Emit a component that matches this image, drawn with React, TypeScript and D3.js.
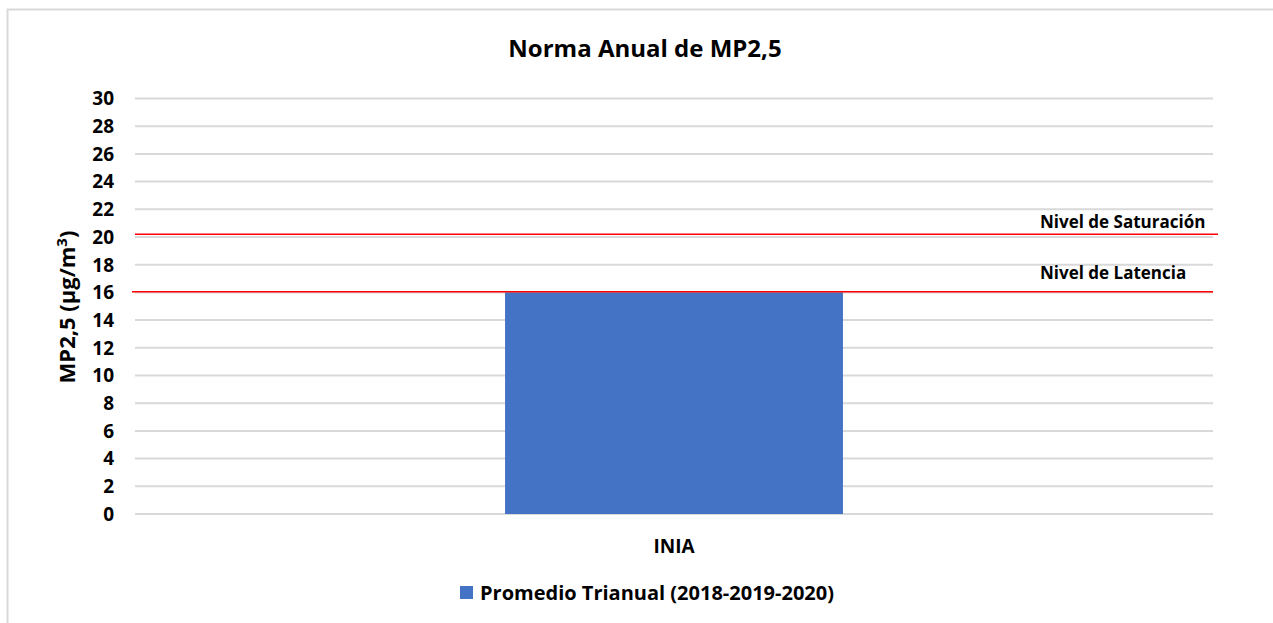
import React from "react";
import * as d3 from "d3";

const categories = ["INIA"];
const promedioTrianual = [16.0];
const nivelSaturacion = 20.2;
const nivelLatencia = 16.05;
const yTicks = [0, 2, 4, 6, 8, 10, 12, 14, 16, 18, 20, 22, 24, 26, 28, 30];

const W = 1273;
const H = 623;
const FONT = "'Open Sans', 'Noto Sans', sans-serif";

export default function App() {
  const x = d3.scaleBand<string>().domain(categories).range([135, 1213]).paddingInner(0.5227).paddingOuter(0.5227);
  const y = d3.scaleLinear().domain([0, 30]).range([514, 98.5]);

  return (
    <svg width={W} height={H} style={{ position: "absolute", left: 0, top: 0, background: "#fff" }} fontFamily={FONT}>
      <rect x={7.5} y={9.5} width={1290} height={640} fill="#fff" stroke="#d9d9d9" strokeWidth={2} />
      <text x={645} y={57} textAnchor="middle" fontSize={24} fontWeight={700} fill="#000">Norma Anual de MP2,5</text>
      {yTicks.map((t) => (
        <g key={t}>
          <line x1={135} x2={1213} y1={y(t)} y2={y(t)} stroke="#d9d9d9" strokeWidth={2} />
          <text x={114} y={y(t)} dy="0.36em" textAnchor="end" fontSize={19} fontWeight={700} fill="#000">{t}</text>
        </g>
      ))}
      {categories.map((c, i) => (
        <rect key={c} x={x(c)} y={y(promedioTrianual[i])} width={x.bandwidth()} height={y(0) - y(promedioTrianual[i])} fill="#4472c4" />
      ))}
      <line x1={135} x2={1218} y1={y(nivelSaturacion)} y2={y(nivelSaturacion)} stroke="#ff0000" strokeWidth={1.5} />
      <line x1={132} x2={1213} y1={y(nivelLatencia)} y2={y(nivelLatencia)} stroke="#ff0000" strokeWidth={1.5} />
      <text x={1040} y={228} fontSize={17} fontWeight={700} fill="#000">Nivel de Saturación</text>
      <text x={1040} y={279} fontSize={17} fontWeight={700} fill="#000">Nivel de Latencia</text>
      <text transform={`translate(75,307) rotate(-90)`} textAnchor="middle" fontSize={22} fontWeight={700} fill="#000">
        MP2,5 (µg/m<tspan dy={-8} fontSize={15}>3</tspan><tspan dy={8}>)</tspan>
      </text>
      {categories.map((c) => (
        <text key={c} x={(x(c) as number) + x.bandwidth() / 2} y={553} textAnchor="middle" fontSize={19} fontWeight={700} fill="#000">{c}</text>
      ))}
      <rect x={460} y={586} width={13} height={13} fill="#4472c4" />
      <text x={480} y={600} fontSize={20} fontWeight={700} fill="#000">Promedio Trianual (2018-2019-2020)</text>
    </svg>
  );
}
